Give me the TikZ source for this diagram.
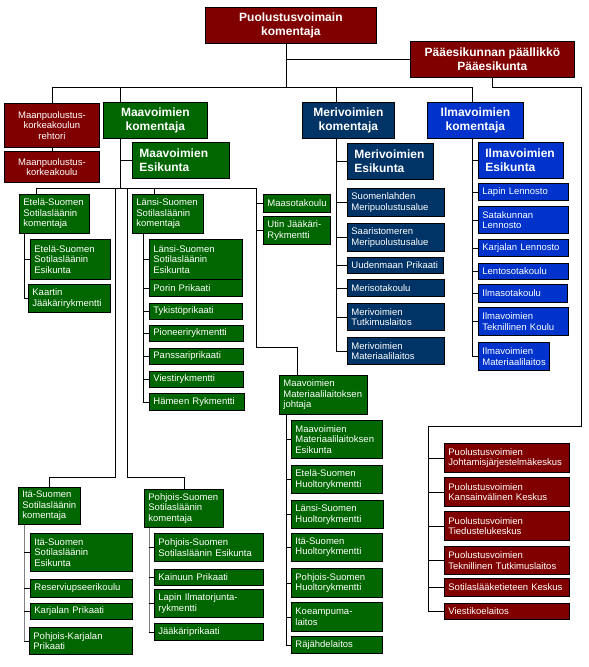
\documentclass[tikz,border=0pt]{standalone}
\usepackage{fontspec}
\setmainfont{Liberation Sans}
\usepackage{xcolor}
\definecolor{PvRed}{HTML}{800000}
\definecolor{MvGreen}{HTML}{006600}
\definecolor{MrNavy}{HTML}{003366}
\definecolor{IvBlue}{HTML}{0033CC}
\usepackage{tikz}
\usetikzlibrary{positioning, calc}
\newcommand{\orgsmall}{\fontsize{9.5}{10.5}\selectfont\hyphenpenalty=10000\exhyphenpenalty=10000}
\newcommand{\orgbold}{\fontsize{12}{14}\selectfont\bfseries\hyphenpenalty=10000\exhyphenpenalty=10000}
\tikzstyle{unit} = [rectangle, draw=black, line width=0.8pt, text=white, anchor=north west, inner xsep=4pt, inner ysep=1pt, align=left, font=\orgsmall]
\tikzstyle{head} = [unit, inner xsep=7pt, align=center, font=\orgbold]
\tikzstyle{headl} = [head, align=left]
\tikzstyle{link} = [line width=0.8pt, color=black]
\tikzstyle{glink} = [link, color=gray]

\begin{document}
\begin{tikzpicture}[x=1pt, y=-1pt]
    \useasboundingbox (0,0) rectangle (589,667);

    % top level
    \node [head, fill=PvRed, minimum width=171pt, minimum height=36pt] (pvk) at (205,7) {Puolustusvoimain\\komentaja};
    \node [head, fill=PvRed, minimum width=164pt, minimum height=36pt] (pe) at (410,41) {Pääesikunnan päällikkö\\Pääesikunta};

    \node [unit, fill=PvRed, align=center, text width=87pt, minimum height=44pt] (mpkr) at (4,103) {Maanpuolustus-\\korkeakoulun\\rehtori};
    \node [unit, fill=PvRed, align=center, text width=87pt, minimum height=31pt] (mpk) at (4,151) {Maanpuolustus-\\korkeakoulu};

    \node [head, fill=MvGreen, minimum width=104pt, minimum height=36pt] (mvk) at (103,102) {Maavoimien\\komentaja};
    \node [headl, fill=MvGreen, text width=83pt, minimum height=36pt] (mve) at (132,142) {Maavoimien\\Esikunta};
    \node [head, fill=MrNavy, minimum width=92pt, minimum height=36pt] (mrk) at (302,102) {Merivoimien\\komentaja};
    \node [headl, fill=MrNavy, text width=72pt, minimum height=36pt] (mre) at (347,143) {Merivoimien\\Esikunta};
    \node [head, fill=IvBlue, minimum width=96pt, minimum height=36pt] (ilk) at (427,102) {Ilmavoimien\\komentaja};
    \node [headl, fill=IvBlue, text width=71pt, minimum height=36pt] (ile) at (478,142) {Ilmavoimien\\Esikunta};

    % Maavoimien sotilasläänit
    \node [unit, fill=MvGreen, text width=62pt, minimum height=39pt] (esk) at (19,194) {Etelä-Suomen\\Sotilasläänin\\komentaja};
    \node [unit, fill=MvGreen, text width=72pt, minimum height=40pt] (ese) at (30,239) {Etelä-Suomen\\Sotilasläänin\\Esikunta};
    \node [unit, fill=MvGreen, text width=74pt, minimum height=28pt] (kjr) at (28,284) {Kaartin\\Jääkärirykmentti};

    \node [unit, fill=MvGreen, text width=63pt, minimum height=39pt] (lsk) at (132,194) {Länsi-Suomen\\Sotilasläänin\\komentaja};
    \node [unit, fill=MvGreen, text width=85pt, minimum height=40pt] (lse) at (149,239) {Länsi-Suomen\\Sotilasläänin\\Esikunta};
    \node [unit, fill=MvGreen, text width=85pt, minimum height=17pt] (porin) at (149,279) {Porin Prikaati};
    \node [unit, fill=MvGreen, text width=85pt, minimum height=16pt] (tyk) at (149,303) {Tykistöprikaati};
    \node [unit, fill=MvGreen, text width=86pt, minimum height=16pt] (pion) at (149,325) {Pioneerirykmentti};
    \node [unit, fill=MvGreen, text width=86pt, minimum height=16pt] (pans) at (149,348) {Panssariprikaati};
    \node [unit, fill=MvGreen, text width=86pt, minimum height=16pt] (vies) at (149,371) {Viestirykmentti};
    \node [unit, fill=MvGreen, text width=87pt, minimum height=17pt] (ham) at (149,393) {Hämeen Rykmentti};

    \node [unit, fill=MvGreen, text width=59pt, minimum height=18pt] (maas) at (263,194) {Maasotakoulu};
    \node [unit, fill=MvGreen, text width=59pt, minimum height=28pt] (utin) at (263,216) {Utin Jääkäri-\\Rykmentti};

    \node [unit, fill=MvGreen, text width=80pt, minimum height=39pt] (mml) at (279,375) {Maavoimien\\Materiaalilaitoksen\\johtaja};
    \node [unit, fill=MvGreen, text width=83pt, minimum height=38pt] (mmle) at (291,420) {Maavoimien\\Materiaalilaitoksen\\Esikunta};
    \node [unit, fill=MvGreen, text width=83pt, minimum height=28pt] (eshr) at (291,465) {Etelä-Suomen\\Huoltorykmentti};
    \node [unit, fill=MvGreen, text width=84pt, minimum height=28pt] (lshr) at (291,500) {Länsi-Suomen\\Huoltorykmentti};
    \node [unit, fill=MvGreen, text width=83pt, minimum height=28pt] (ishr) at (291,533) {Itä-Suomen\\Huoltorykmentti};
    \node [unit, fill=MvGreen, text width=83pt, minimum height=29pt] (pshr) at (291,568) {Pohjois-Suomen\\Huoltorykmentti};
    \node [unit, fill=MvGreen, text width=83pt, minimum height=29pt] (koe) at (291,602) {Koeampuma-\\laitos};
    \node [unit, fill=MvGreen, text width=83pt, minimum height=17pt] (raj) at (291,636) {Räjähdelaitos};

    \node [unit, fill=MvGreen, text width=54pt, minimum height=37pt] (isk) at (18,487) {Itä-Suomen\\Sotilasläänin\\komentaja};
    \node [unit, fill=MvGreen, text width=94pt, minimum height=38pt] (ise) at (30,533) {Itä-Suomen\\Sotilasläänin\\Esikunta};
    \node [unit, fill=MvGreen, text width=94pt, minimum height=18pt] (rul) at (30,579) {Reserviupseerikoulu};
    \node [unit, fill=MvGreen, text width=94pt, minimum height=16pt] (karp) at (30,603) {Karjalan Prikaati};
    \node [unit, fill=MvGreen, text width=95pt, minimum height=27pt] (pkp) at (29,627) {Pohjois-Karjalan\\Prikaati};

    \node [unit, fill=MvGreen, text width=71pt, minimum height=38pt] (psk) at (144,489) {Pohjois-Suomen\\Sotilasläänin\\komentaja};
    \node [unit, fill=MvGreen, text width=101pt, minimum height=28pt] (pse) at (154,533) {Pohjois-Suomen\\Sotilasläänin Esikunta};
    \node [unit, fill=MvGreen, text width=101pt, minimum height=16pt] (kain) at (154,569) {Kainuun Prikaati};
    \node [unit, fill=MvGreen, text width=101pt, minimum height=28pt] (lit) at (154,589) {Lapin Ilmatorjunta-\\rykmentti};
    \node [unit, fill=MvGreen, text width=101pt, minimum height=17pt] (jpr) at (154,623) {Jääkäriprikaati};

    % Merivoimien joukot
    \node [unit, fill=MrNavy, text width=89pt, minimum height=28pt] (sml) at (347,188) {Suomenlahden\\Meripuolustusalue};
    \node [unit, fill=MrNavy, text width=89pt, minimum height=28pt] (smr) at (347,223) {Saaristomeren\\Meripuolustusalue};
    \node [unit, fill=MrNavy, text width=88pt, minimum height=16pt] (uud) at (347,257) {Uudenmaan Prikaati};
    \node [unit, fill=MrNavy, text width=89pt, minimum height=17pt] (mer) at (347,279) {Merisotakoulu};
    \node [unit, fill=MrNavy, text width=89pt, minimum height=27pt] (mtl) at (347,303) {Merivoimien\\Tutkimuslaitos};
    \node [unit, fill=MrNavy, text width=89pt, minimum height=27pt] (mrml) at (347,337) {Merivoimien\\Materiaalilaitos};

    % Ilmavoimien joukot
    \node [unit, fill=IvBlue, text width=82pt, minimum height=17pt] (lapl) at (478,183) {Lapin Lennosto};
    \node [unit, fill=IvBlue, text width=82pt, minimum height=27pt] (satl) at (478,206) {Satakunnan\\Lennosto};
    \node [unit, fill=IvBlue, text width=82pt, minimum height=17pt] (karl) at (478,239) {Karjalan Lennosto};
    \node [unit, fill=IvBlue, text width=82pt, minimum height=16pt] (lent) at (478,263) {Lentosotakoulu};
    \node [unit, fill=IvBlue, text width=81pt, minimum height=18pt] (ilma) at (478,284) {Ilmasotakoulu};
    \node [unit, fill=IvBlue, text width=82pt, minimum height=28pt] (iltk) at (478,307) {Ilmavoimien\\Teknillinen Koulu};
    \node [unit, fill=IvBlue, text width=63pt, minimum height=28pt] (ilml) at (478,342) {Ilmavoimien\\Materiaalilaitos};

    % Pääesikunnan alaiset
    \node [unit, fill=PvRed, text width=117pt, minimum height=29pt] (pvjj) at (444,443) {Puolustusvoimien\\Johtamisjärjestelmäkeskus};
    \node [unit, fill=PvRed, text width=117pt, minimum height=29pt] (pvkk) at (444,477) {Puolustusvoimien\\Kansainvälinen Keskus};
    \node [unit, fill=PvRed, text width=117pt, minimum height=29pt] (pvtk) at (444,511) {Puolustusvoimien\\Tiedustelukeskus};
    \node [unit, fill=PvRed, text width=117pt, minimum height=28pt] (pvtt) at (444,546) {Puolustusvoimien\\Teknillinen Tutkimuslaitos};
    \node [unit, fill=PvRed, text width=117pt, minimum height=18pt] (slk) at (444,578) {Sotilaslääketieteen Keskus};
    \node [unit, fill=PvRed, text width=117pt, minimum height=16pt] (vkl) at (444,603) {Viestikoelaitos};

    % top lines
    \coordinate (pvx) at (286,87);
    \coordinate (mvx) at (120,87);
    \coordinate (mrx) at (336,87);
    \coordinate (ilx) at (472,87);
    \draw [link] (pvx |- pvk.south) -- (pvx);
    \draw [link] (pvx |- pe.west) -- (pe.west);
    \draw [link] (mpkr.north |- pvx) -- (ilx);
    \draw [link] (mpkr.north |- pvx) -- (mpkr.north);
    \draw [link] (mpkr) -- (mpk);
    \draw [link] (mvx) -- (mvx |- mvk.north);
    \draw [link] (mrx) -- (mrx |- mrk.north);
    \draw [link] (ilx) -- (ilx |- ilk.north);

    % Maavoimien lines
    \coordinate (mvbus) at (120,188);
    \coordinate (esx) at (36,188);
    \coordinate (lsx) at (154,188);
    \coordinate (mmx) at (256,188);
    \coordinate (itx) at (115,477);
    \coordinate (pox) at (127,477);
    \coordinate (mmk) at (297,347);
    \draw [link] (mvx |- mvk.south) -- (mvbus);
    \draw [link] (mvx |- mve.west) -- (mve.west);
    \draw [link] (esx) -- (mmx);
    \draw [link] (esx) -- (esx |- esk.north);
    \draw [link] (lsx) -- (lsx |- lsk.north);
    \draw [link] (itx |- mvbus) -- (itx) -| (isk.north);
    \draw [link] (pox |- mvbus) -- (pox) -| (psk.north);
    \draw [link] (mmx) |- (mmk) -- (mml.north -| mmk);
    \foreach \u in {maas, utin}
        \draw [link] (mmx |- \u.west) -- (\u.west);

    \coordinate (esy) at (24,0);
    \draw [link] (esy |- esk.south) -- (esy |- kjr.west);
    \foreach \u in {ese, kjr}
        \draw [link] (esy |- \u.west) -- (\u.west);

    \coordinate (lsy) at (143,0);
    \draw [link] (lsy |- lsk.south) -- (lsy |- ham.west);
    \foreach \u in {lse, porin, tyk, pion, pans, vies, ham}
        \draw [link] (lsy |- \u.west) -- (\u.west);

    \coordinate (mmy) at (286,0);
    \draw [link] (mmy |- mml.south) -- (mmy |- raj.west);
    \foreach \u in {mmle, eshr, lshr, ishr, pshr, koe, raj}
        \draw [link] (mmy |- \u.west) -- (\u.west);

    \coordinate (isy) at (24,0);
    \draw [glink] (isy |- isk.south) -- (isy |- pkp.west);
    \foreach \u in {ise, rul, karp, pkp}
        \draw [link] (isy |- \u.west) -- (\u.west);

    \coordinate (psy) at (149,0);
    \draw [glink] (psy |- psk.south) -- (psy |- jpr.west);
    \foreach \u in {pse, kain, lit, jpr}
        \draw [link] (psy |- \u.west) -- (\u.west);

    % Merivoimien ja Ilmavoimien lines
    \draw [link] (mrx |- mrk.south) -- (mrx |- mrml.west);
    \foreach \u in {mre, sml, smr, uud, mer, mtl, mrml}
        \draw [link] (mrx |- \u.west) -- (\u.west);

    \draw [link] (ilx |- ilk.south) -- (ilx |- ilml.west);
    \foreach \u in {ile, lapl, satl, karl, lent, ilma, iltk, ilml}
        \draw [link] (ilx |- \u.west) -- (\u.west);

    % Pääesikunta lines
    \coordinate (pea) at (581,87);
    \coordinate (peb) at (428,426);
    \draw [link] (pe.south) -- (pe.south |- pea) -- (pea) -- (pea |- peb) -- (peb) -- (peb |- vkl.west);
    \foreach \u in {pvjj, pvkk, pvtk, pvtt, slk, vkl}
        \draw [link] (peb |- \u.west) -- (\u.west);
\end{tikzpicture}
\end{document}
